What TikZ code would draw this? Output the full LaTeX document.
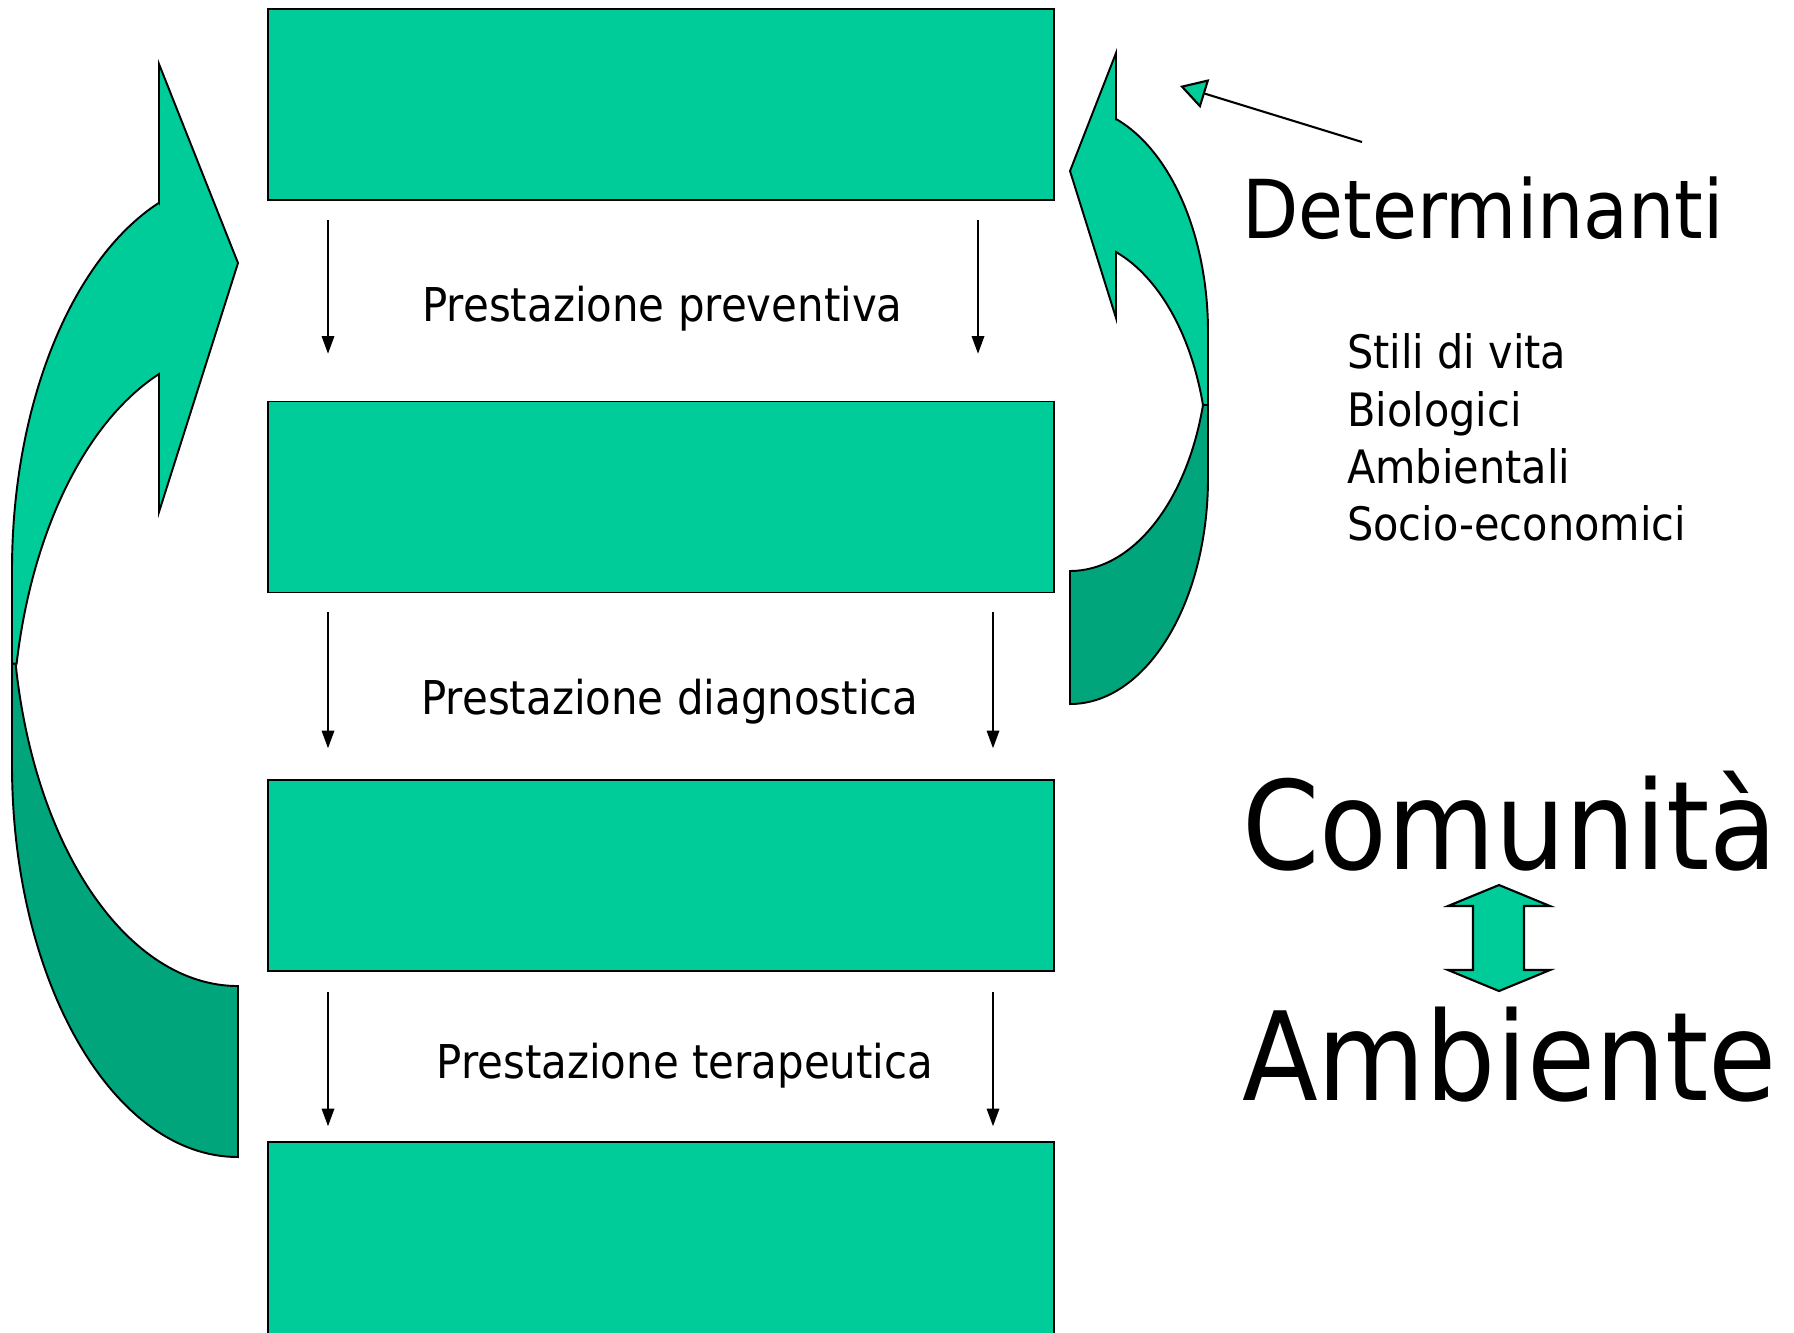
\documentclass[tikz,border=0pt]{standalone}
\usepackage{fontspec}
\setmainfont{DejaVu Sans}[FakeStretch=0.9]
\usepackage{tikz}
\usetikzlibrary{arrows.meta,positioning}

\definecolor{boxgreen}{RGB}{0,204,153}
\definecolor{backgreen}{RGB}{0,165,123}

\begin{document}
\begin{tikzpicture}[
    x=0.01cm, y=-0.01cm,
    stage/.style={
        rectangle, draw=black, line width=0.45pt, fill=boxgreen,
        minimum width=7.86cm, minimum height=1.91cm, inner sep=0pt
    },
    stepArrow/.style={
        -{Triangle[length=5pt, width=3.6pt]}, line width=0.35pt, draw=black
    },
    stepLabel/.style={
        font=\fontsize{13.25}{15.9}\selectfont, anchor=base, inner sep=0pt
    },
    listItem/.style={
        font=\fontsize{13.1}{15.7}\selectfont, anchor=base west, inner sep=0pt
    },
    bigWord/.style={
        font=\fontsize{35}{40}\selectfont, anchor=base west, inner sep=0pt
    },
    bandFront/.style={draw=black, line width=0.55pt, fill=boxgreen},
    bandBack/.style={draw=black, line width=0.55pt, fill=backgreen},
    pointerEdge/.style={
        -{Triangle[length=7.4pt, width=8.5pt, fill=boxgreen]}, line width=0.6pt, draw=black
    }
]
\useasboundingbox (0,0) rectangle (1794,1332);

% Stages of care
\node[stage] (box1) at (661,104.6) {};
\node[stage] (box2) at (661,497) {};
\node[stage] (box3) at (661,875.5) {};
\node[stage, minimum height=2.3cm] (box4) at (661,1257) {};

% Columns of the small arrows
\coordinate (colL) at (328,0);
\coordinate (colR) at (978,0);
\coordinate (colRR) at (993,0);

\draw[stepArrow, shorten <=0.195cm, shorten >=0.47cm] (box1.south -| colL) -- (box2.north -| colL);
\draw[stepArrow, shorten <=0.195cm, shorten >=0.47cm] (box1.south -| colR) -- (box2.north -| colR);
\draw[stepArrow, shorten <=0.19cm, shorten >=0.31cm] (box2.south -| colL) -- (box3.north -| colL);
\draw[stepArrow, shorten <=0.19cm, shorten >=0.31cm] (box2.south -| colRR) -- (box3.north -| colRR);
\draw[stepArrow, shorten <=0.2cm, shorten >=0.15cm] (box3.south -| colL) -- (box4.north -| colL);
\draw[stepArrow, shorten <=0.2cm, shorten >=0.15cm] (box3.south -| colRR) -- (box4.north -| colRR);

\node[stepLabel] (prev) at (662.5,321.5) {Prestazione preventiva};
\node[stepLabel] (diag) at (670,714) {Prestazione diagnostica};
\node[stepLabel] (ter) at (685,1078) {Prestazione terapeutica};

% Left curved arrow (back part first)
\draw[bandBack] (15.6,663.5) arc[start angle=169.79, end angle=90, x radius=226, y radius=392]
    -- (238,1157) arc[start angle=90, end angle=180, x radius=226, y radius=392]
    -- (12,663.5) -- cycle;
\draw[bandFront] (159,203) -- (159,64) -- (238,263) -- (159,512) -- (159,374)
    arc[start angle=249.5, end angle=191.4, x radius=226, y radius=392]
    -- (12,663.5) -- (12,570)
    arc[start angle=180, end angle=249.5, x radius=226, y radius=392] -- cycle;

% Right curved arrow
\draw[bandBack] (1203,405) arc[start angle=15.4, end angle=90, x radius=138, y radius=226]
    -- (1070,704) arc[start angle=90, end angle=0, x radius=138, y radius=226]
    -- (1208,405) -- cycle;
\draw[bandFront] (1116,119) -- (1116,53) -- (1070,171) -- (1116,318) -- (1116,252)
    arc[start angle=-70.5, end angle=-15.4, x radius=138, y radius=226]
    -- (1208,405) -- (1208,332)
    arc[start angle=0, end angle=-70.5, x radius=138, y radius=226] -- cycle;

% Determinants
\node[anchor=base west, inner sep=0pt, font=\fontsize{23.1}{27}\selectfont] (det) at (1241.5,238) {Determinanti};
\coordinate (detTail) at (1362,142);
\coordinate (detTip) at (1180,86);
\draw[pointerEdge] (detTail) -- (detTip);

\node[listItem] (fac1) at (1346.5,368) {Stili di vita};
\node[listItem] (fac2) at (1346.5,426) {Biologici};
\node[listItem] (fac3) at (1346.5,483) {Ambientali};
\node[listItem] (fac4) at (1346.5,540) {Socio-economici};

% Community and environment
\node[bigWord] (com) at (1241.5,869.5) {Comunità};
\node[bigWord] (amb) at (1241.5,1100.6) {Ambiente};

\draw[bandFront, line width=0.6pt] (1499,885) -- (1550,906) -- (1524,906) -- (1524,970) -- (1550,970)
    -- (1499,991) -- (1448,970) -- (1473,970) -- (1473,906) -- (1448,906) -- cycle;

\end{tikzpicture}
\end{document}
